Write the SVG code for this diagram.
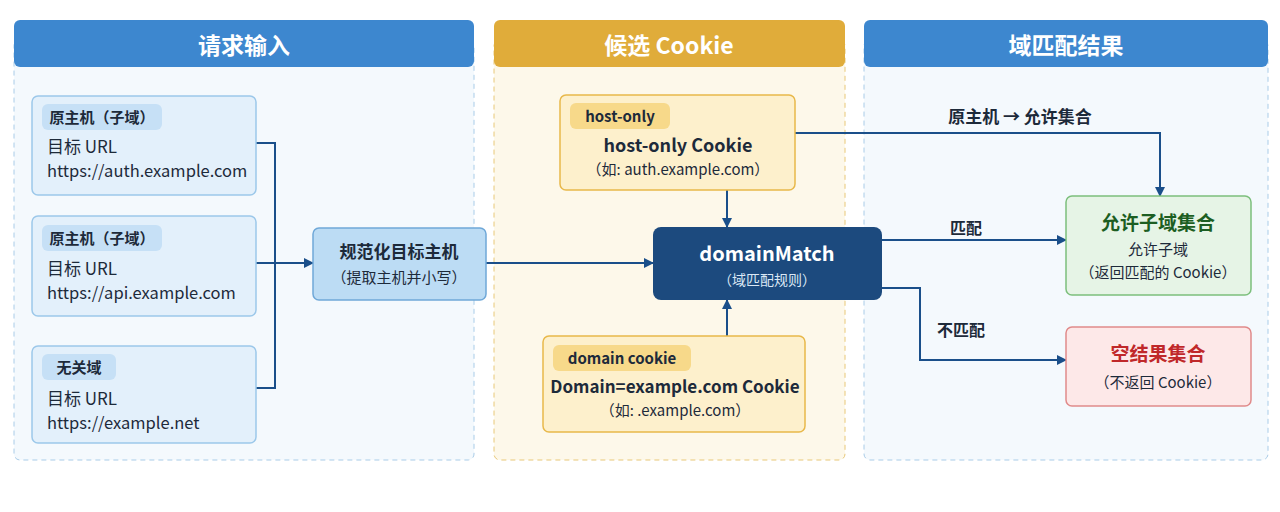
<svg xmlns="http://www.w3.org/2000/svg" width="1280" height="512" viewBox="0 0 1280 512">
<defs>
<marker id="ah" markerWidth="10" markerHeight="10" refX="9" refY="5" orient="auto" markerUnits="userSpaceOnUse"><path d="M0,0 L10,5 L0,10 z" fill="#1a4f8a"/></marker>
<style>
text{font-family:"Noto Sans CJK SC","Noto Sans",sans-serif;fill:#1d2a3a}
.hd{font-size:23px;font-weight:bold;fill:#fff}
.b{font-weight:bold}
.c{text-anchor:middle}
.ln{fill:none;stroke:#1a4f8a;stroke-width:2}
.in{fill:#e3f0fb;stroke:#9cc8ea;stroke-width:1.5}
.pill{fill:#c6e0f6}
.cy{fill:#fdf0cc;stroke:#e8b84a;stroke-width:1.5}
.py{fill:#f7d98a}
</style>
</defs>
<rect width="1280" height="512" fill="#fff"/>
<g id="panels">
<rect x="14" y="40" width="460" height="420" rx="6" fill="#f4f9fd" stroke="#a9cce8" stroke-dasharray="5 4"/>
<rect x="14" y="20" width="460" height="47" rx="6" fill="#3d87cf"/>
<text x="244" y="54" class="hd c">请求输入</text>
<rect x="494" y="40" width="351" height="420" rx="6" fill="#fdf8ea" stroke="#e8c878" stroke-dasharray="5 4"/>
<rect x="494" y="20" width="351" height="47" rx="6" fill="#e0ac3a"/>
<text x="669" y="54" class="hd c">候选 Cookie</text>
<rect x="864" y="40" width="404" height="420" rx="6" fill="#f4f9fd" stroke="#a9cce8" stroke-dasharray="5 4"/>
<rect x="864" y="20" width="404" height="47" rx="6" fill="#3d87cf"/>
<text x="1066" y="54" class="hd c">域匹配结果</text>
</g>
<g id="connectors">
<path class="ln" d="M256,143 H275 V388 H256"/>
<path class="ln" d="M256,263 H313" marker-end="url(#ah)"/>
<path class="ln" d="M486,263 H653" marker-end="url(#ah)"/>
<path class="ln" d="M727,190 V227" marker-end="url(#ah)"/>
<path class="ln" d="M727,336 V300" marker-end="url(#ah)"/>
<path class="ln" d="M795,133 H1160 V196" marker-end="url(#ah)"/>
<path class="ln" d="M882,240 H1066" marker-end="url(#ah)"/>
<path class="ln" d="M882,288 H920 V360 H1066" marker-end="url(#ah)"/>
<text x="1020" y="123" class="b c" font-size="17">原主机 → 允许集合</text>
<text x="966" y="234" class="b c" font-size="16">匹配</text>
<text x="961" y="336" class="b c" font-size="16">不匹配</text>
</g>
<g id="in1"><rect x="32" y="96" width="224" height="99" rx="6" class="in"/><rect x="42" y="104" width="120" height="26" rx="6" class="pill"/><text x="102" y="123" class="b c" font-size="15">原主机（子域）</text><text x="47" y="153" font-size="17">目标 URL</text><text x="47" y="177" font-size="16.5">https://auth.example.com</text></g>
<g id="in2"><rect x="32" y="216" width="224" height="100" rx="6" class="in"/><rect x="42" y="225" width="120" height="26" rx="6" class="pill"/><text x="102" y="244" class="b c" font-size="15">原主机（子域）</text><text x="47" y="275" font-size="17">目标 URL</text><text x="47" y="299" font-size="16.5">https://api.example.com</text></g>
<g id="in3"><rect x="32" y="346" width="224" height="97" rx="6" class="in"/><rect x="42" y="354" width="74" height="26" rx="6" class="pill"/><text x="79" y="373" class="b c" font-size="15">无关域</text><text x="47" y="405" font-size="17">目标 URL</text><text x="47" y="429" font-size="16.5">https://example.net</text></g>
<g id="norm"><rect x="313" y="228" width="173" height="72" rx="6" fill="#bcdcf4" stroke="#6fa8d8" stroke-width="1.5"/><text x="399" y="258" class="b c" font-size="17">规范化目标主机</text><text x="399" y="283" class="c" font-size="15">（提取主机并小写）</text></g>
<g id="hostonly"><rect x="560" y="95" width="235" height="95" rx="6" class="cy"/><rect x="570" y="103" width="100" height="26" rx="6" class="py"/><text x="620" y="122" class="b c" font-size="15">host-only</text><text x="678" y="152" class="b c" font-size="18">host-only Cookie</text><text x="678" y="175" class="c" font-size="15">（如: auth.example.com）</text></g>
<g id="match"><rect x="653" y="227" width="229" height="73" rx="8" fill="#1c4a7e"/><text x="767" y="261" class="b c" font-size="20" style="fill:#fff">domainMatch</text><text x="767" y="285" class="c" font-size="14" style="fill:#dbe8f5">（域匹配规则）</text></g>
<g id="domaincookie"><rect x="543" y="336" width="262" height="96" rx="6" class="cy"/><rect x="553" y="345" width="138" height="26" rx="6" class="py"/><text x="622" y="364" class="b c" font-size="15">domain cookie</text><text x="675" y="393" class="b c" font-size="17">Domain=example.com Cookie</text><text x="675" y="416" class="c" font-size="15">（如: .example.com）</text></g>
<g id="allowed"><rect x="1066" y="196" width="185" height="99" rx="6" fill="#e6f4e6" stroke="#7cbf7c" stroke-width="1.5"/><text x="1158" y="230" class="b c" font-size="19" style="fill:#1c5e22">允许子域集合</text><text x="1158" y="255" class="c" font-size="15">允许子域</text><text x="1158" y="278" class="c" font-size="15">（返回匹配的 Cookie）</text></g>
<g id="empty"><rect x="1066" y="327" width="185" height="79" rx="6" fill="#fde8e8" stroke="#e08a8a" stroke-width="1.5"/><text x="1158" y="361" class="b c" font-size="19" style="fill:#c0282a">空结果集合</text><text x="1158" y="388" class="c" font-size="15">（不返回 Cookie）</text></g>
</svg>
